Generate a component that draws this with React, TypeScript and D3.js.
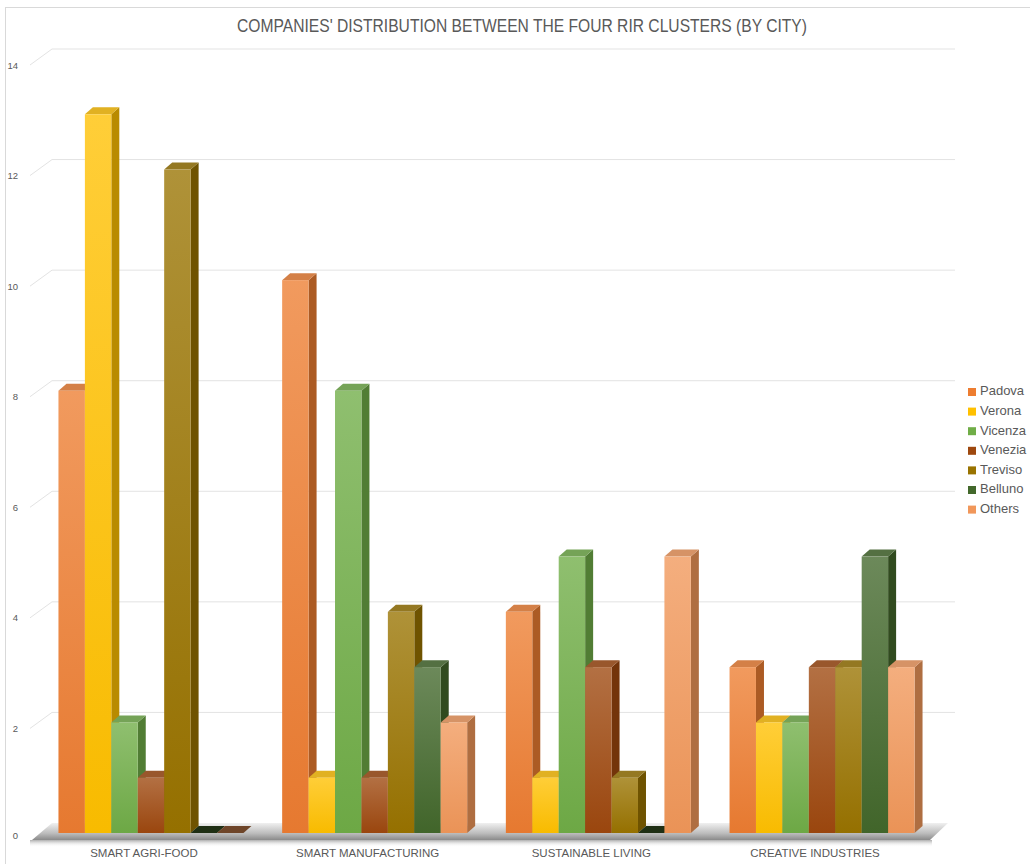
import React from 'react';
import * as d3 from 'd3';

const clusters = ['SMART AGRI-FOOD', 'SMART MANUFACTURING', 'SUSTAINABLE LIVING', 'CREATIVE INDUSTRIES'];
const cities = ['Padova', 'Verona', 'Vicenza', 'Venezia', 'Treviso', 'Belluno', 'Others'];
const colors = ['#ED7D31', '#FFC000', '#70AD47', '#9E480E', '#997300', '#43682B', '#F1975A'];

// one array per city, values per cluster
const padova = [8, 10, 4, 3];
const verona = [13, 1, 1, 2];
const vicenza = [2, 8, 5, 2];
const venezia = [1, 1, 3, 3];
const treviso = [12, 4, 1, 3];
const belluno = [0, 3, 0, 5];
const others = [0, 2, 5, 3];
const series = [padova, verona, vicenza, venezia, treviso, belluno, others];

const yTicks = [0, 2, 4, 6, 8, 10, 12, 14];

const W = 1030;
const H = 864;
const DX = 8;   // bar depth
const DY = -7;

function App() {
  const y = d3.scaleLinear().domain([0, 14]).range([833, 59]);
  const x0 = d3.scaleBand().domain(clusters).range([39, 934]).paddingInner(0.173).paddingOuter(0.087);
  const x1 = d3.scaleBand().domain(cities).range([0, x0.bandwidth()]).padding(0);
  const bw = x1.bandwidth();

  const tint = (c: string, k: number) => d3.interpolateRgb(c, '#ffffff')(k);
  const darker = (c: string, k: number) => d3.color(c)!.darker(k).formatHex();

  const bars: any[] = [];
  clusters.forEach((cl, ci) => {
    cities.forEach((city, si) => {
      bars.push({ cl, city, si, v: series[si][ci] });
    });
  });

  const grey = '#595959';

  return (
    <svg width={W} height={H} style={{ position: 'absolute', left: 0, top: 0 }}
      fontFamily="'Liberation Sans', Arial, sans-serif">
      <defs>
        {colors.map((c, i) => (
          <linearGradient key={i} id={`fr${i}`} x1="0" y1="0" x2="0" y2="1">
            <stop offset="0" stopColor={tint(c, 0.22)} />
            <stop offset="1" stopColor={darker(c, 0.08)} />
          </linearGradient>
        ))}
        <linearGradient id="floor" x1="0" y1="0" x2="0" y2="1">
          <stop offset="0" stopColor="#f0f0f0" />
          <stop offset="0.6" stopColor="#bdbdbd" />
          <stop offset="1" stopColor="#8a8a8a" />
        </linearGradient>
        <linearGradient id="shadow" x1="0" y1="0" x2="0" y2="1">
          <stop offset="0" stopColor="#9a9a9a" stopOpacity="0.8" />
          <stop offset="1" stopColor="#ffffff" stopOpacity="0" />
        </linearGradient>
      </defs>
      <rect x={0} y={0} width={W} height={H} fill="#fff" />
      <rect x={5.5} y={7.5} width={W + 20} height={H + 20} fill="none" stroke="#d9d9d9" />

      <text x={522} y={32} textAnchor="middle" fontSize={17.5} fill={grey}
        textLength={570} lengthAdjust="spacingAndGlyphs">
        COMPANIES' DISTRIBUTION BETWEEN THE FOUR RIR CLUSTERS (BY CITY)
      </text>

      {/* back wall gridlines and axis labels */}
      {yTicks.map(t => (
        <g key={t}>
          {t > 0 && (
            <path d={`M30,${y(t) + 6}L52,${y(t) - 10}H955`} fill="none" stroke="#e3e3e3" strokeWidth={1} />
          )}
          <text x={18} y={y(t) + (t === 0 ? 3 : 7)} textAnchor="end" dominantBaseline="middle"
            fontSize={9.5} fill={grey}>{t}</text>
        </g>
      ))}

      {/* floor */}
      <path d={`M32,840L52,823H948L930,840Z`} fill="url(#floor)" />
      <rect x={30} y={840} width={902} height={7} fill="url(#shadow)" />

      {/* bars */}
      {bars.map((b, i) => {
        const xl = x0(b.cl)! + x1(b.city)!;
        const xr = xl + bw;
        const yt = y(b.v);
        const yb = y(0);
        const c = colors[b.si];
        if (b.v === 0) {
          return (
            <path key={i} d={`M${xl},${yb}H${xr}l${DX},${DY}H${xl + DX}Z`}
              fill={darker(c, 2.2)} />
          );
        }
        return (
          <g key={i}>
            <path d={`M${xr},${yt}l${DX},${DY}V${yb + DY}l${-DX},${-DY}Z`} fill={darker(c, 0.9)} />
            <path d={`M${xl},${yt}H${xr}l${DX},${DY}H${xl + DX}Z`} fill={darker(tint(c, 0.15), 0.35)} />
            <rect x={xl} y={yt} width={bw} height={yb - yt} fill={`url(#fr${b.si})`} />
          </g>
        );
      })}

      {/* category labels */}
      {clusters.map(cl => (
        <text key={cl} x={x0(cl)! + x0.bandwidth() / 2 - 7} y={857} textAnchor="middle"
          fontSize={11.5} fill={grey}>{cl}</text>
      ))}

      {/* legend */}
      {cities.map((city, i) => (
        <g key={city} transform={`translate(968,${392 + i * 19.6})`}>
          <rect x={0} y={-4} width={8} height={8} fill={colors[i]} />
          <text x={12} y={0} dominantBaseline="middle" fontSize={13} fill={grey}>{city}</text>
        </g>
      ))}
    </svg>
  );
}

export default App;
